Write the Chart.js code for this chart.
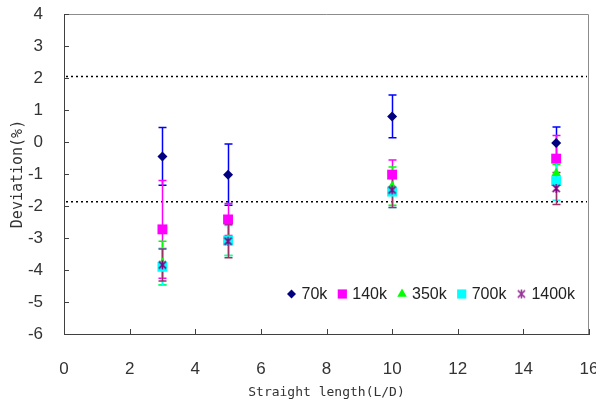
<!DOCTYPE html>
<html>
<head>
<meta charset="utf-8">
<script src="https://cdn.jsdelivr.net/npm/chart.js@4/dist/chart.umd.min.js"></script>
<style>
html, body { margin: 0; padding: 0; background: #fff; }
</style>
</head>
<body>
<canvas id="Deviation_Graph" width="596" height="409"></canvas>
<script>
// straight length positions (L/D)
var lengths = [3, 5, 10, 15];
var seriesNames = ['70k', '140k', '350k', '700k', '1400k'];

// deviation (%) and +/- error for each flow
var dev70k = [-0.45, -1.02, 0.80, -0.03];
var err70k = [0.90, 0.96, 0.67, 0.50];
var dev140k = [-2.73, -2.42, -1.02, -0.52];
var err140k = [1.53, 0.50, 0.46, 0.72];
var dev350k = [-3.78, -3.05, -1.38, -0.98];
var err350k = [0.68, 0.50, 0.60, 0.28];
var dev700k = [-3.90, -3.08, -1.55, -1.22];
var err700k = [0.58, 0.47, 0.50, 0.60];
var dev1400k = [-3.84, -3.10, -1.50, -1.45];
var err1400k = [0.50, 0.52, 0.55, 0.50];

var xTickStep = 2;
var yTickStep = 1;
var refLines = [2.05, -1.87];

function pts(vals) {
    return lengths.map(function (x, i) { return { x: x, y: vals[i] }; });
}

// excel style star marker: an x with a vertical bar
function starMark(size, color) {
    var c = document.createElement('canvas');
    c.width = size; c.height = size;
    var g = c.getContext('2d');
    var m = size / 2, r = size / 2 - 1;
    g.strokeStyle = color;
    g.lineWidth = 1.5;
    g.beginPath();
    g.moveTo(m, m - r); g.lineTo(m, m + r);
    g.moveTo(m - r * 0.8, m - r * 0.8); g.lineTo(m + r * 0.8, m + r * 0.8);
    g.moveTo(m + r * 0.8, m - r * 0.8); g.lineTo(m - r * 0.8, m + r * 0.8);
    g.stroke();
    return c;
}

var tickFont = { family: "'Liberation Sans', Arial, sans-serif", size: 17 };

var errorBars = {
    id: 'errorBars',
    beforeDatasetsDraw: function (chart) {
        var ctx = chart.ctx;
        var xs = chart.scales.x, ys = chart.scales.y;
        chart.data.datasets.forEach(function (ds) {
            ctx.save();
            ctx.strokeStyle = ds.errorColor;
            ctx.lineWidth = 1.5;
            ds.data.forEach(function (p, i) {
                var e = ds.errors[i];
                var px = Math.round(xs.getPixelForValue(p.x)) + 0.5;
                var t = ys.getPixelForValue(p.y + e);
                var b = ys.getPixelForValue(p.y - e);
                ctx.beginPath();
                ctx.moveTo(px, t); ctx.lineTo(px, b);
                ctx.moveTo(px - 4, t); ctx.lineTo(px + 4, t);
                ctx.moveTo(px - 4, b); ctx.lineTo(px + 4, b);
                ctx.stroke();
            });
            ctx.restore();
        });
    }
};

var frame = {
    id: 'frame',
    beforeDatasetsDraw: function (chart) {
        var ctx = chart.ctx, a = chart.chartArea;
        var xs = chart.scales.x, ys = chart.scales.y;
        ctx.save();
        // top and right border of the plot area
        ctx.strokeStyle = '#8c8c8c';
        ctx.lineWidth = 1;
        ctx.beginPath();
        ctx.moveTo(a.left, a.top + 0.5); ctx.lineTo(a.right - 0.5, a.top + 0.5);
        ctx.lineTo(a.right - 0.5, a.bottom);
        ctx.stroke();
        // inner tick marks
        ctx.strokeStyle = '#404040';
        ctx.beginPath();
        xs.ticks.forEach(function (t) {
            var px = Math.round(xs.getPixelForValue(t.value)) + 0.5;
            ctx.moveTo(px, a.bottom); ctx.lineTo(px, a.bottom - 5);
        });
        ys.ticks.forEach(function (t) {
            var py = Math.round(ys.getPixelForValue(t.value)) + 0.5;
            ctx.moveTo(a.left, py); ctx.lineTo(a.left + 5, py);
        });
        ctx.stroke();
        // dotted reference lines
        ctx.strokeStyle = '#000';
        ctx.lineWidth = 1.5;
        ctx.setLineDash([2, 3]);
        refLines.forEach(function (v) {
            var py = ys.getPixelForValue(v);
            ctx.beginPath();
            ctx.moveTo(a.left + 2, py); ctx.lineTo(a.right - 2, py);
            ctx.stroke();
        });
        ctx.restore();
    }
};

var insideLegend = {
    id: 'insideLegend',
    afterDatasetsDraw: function (chart) {
        var ctx = chart.ctx, a = chart.chartArea;
        var dsets = chart.data.datasets;
        ctx.save();
        ctx.font = "16px 'Liberation Sans', Arial, sans-serif";
        ctx.textBaseline = 'middle';
        var total = 0;
        var widths = dsets.map(function (ds) { return ctx.measureText(ds.label).width; });
        widths.forEach(function (w) { total += 10 + w + 15; });
        total -= 15;
        var x = a.right - 14 - total;
        var y = a.bottom - 40;
        dsets.forEach(function (ds, i) {
            ctx.fillStyle = ds.pointBackgroundColor;
            ctx.strokeStyle = ds.pointBorderColor;
            ctx.lineWidth = 1.5;
            Chart.helpers.drawPoint(ctx, { pointStyle: ds.legendStyle || ds.pointStyle, radius: ds.legendRadius, rotation: 0, borderWidth: ds.pointBorderWidth }, x, y);
            ctx.fillStyle = '#222';
            ctx.fillText(ds.label, x + 10, y + 1);
            x += 10 + widths[i] + 15;
        });
        ctx.restore();
    }
};

var ctx = document.getElementById('Deviation_Graph').getContext('2d');

var data = {
    datasets: [
        { label: seriesNames[0], data: pts(dev70k), errors: err70k, errorColor: '#0000ff',
          pointStyle: 'rectRot', pointRadius: 5, legendRadius: 4.5, pointBackgroundColor: '#000080', pointBorderColor: '#000080', pointBorderWidth: 0, order: 5 },
        { label: seriesNames[1], data: pts(dev140k), errors: err140k, errorColor: '#ff00ff',
          pointStyle: 'rect', pointRadius: 7, legendRadius: 6.5, pointBackgroundColor: '#ff00ff', pointBorderColor: '#ff00ff', pointBorderWidth: 0, order: 4 },
        { label: seriesNames[2], data: pts(dev350k), errors: err350k, errorColor: '#00ff00',
          pointStyle: 'triangle', pointRadius: 5.5, legendRadius: 5.5, pointBackgroundColor: '#00ff00', pointBorderColor: '#00ff00', pointBorderWidth: 0, order: 3 },
        { label: seriesNames[3], data: pts(dev700k), errors: err700k, errorColor: '#00ffff',
          pointStyle: 'rect', pointRadius: 7, legendRadius: 6.5, pointBackgroundColor: '#00ffff', pointBorderColor: '#00ffff', pointBorderWidth: 0, order: 2 },
        { label: seriesNames[4], data: pts(dev1400k), errors: err1400k, errorColor: '#993366',
          pointStyle: starMark(11, '#800080'), legendStyle: starMark(11, '#993399'), pointRadius: 5, legendRadius: 5,
          pointBackgroundColor: '#800080', pointBorderColor: '#800080', pointBorderWidth: 0, order: 1 }
    ]
};

var options = {
    responsive: false,
    animation: false,
    layout: { padding: { top: 14, right: 3, left: 0, bottom: 0 } },
    plugins: {
        legend: { display: false },
        tooltip: { enabled: false }
    },
    scales: {
        x: {
            type: 'linear', min: 0, max: 16,
            grid: { display: false, drawTicks: false },
            border: { display: true, color: '#404040', width: 1 },
            ticks: { stepSize: xTickStep, padding: 25, color: '#333', font: tickFont, autoSkip: false, maxRotation: 0 },
            title: { display: true, text: 'Straight length(L/D)', color: '#333',
                     font: { family: "'DejaVu Sans Mono', monospace", size: 13 }, padding: { top: 0, bottom: 9 } },
            afterFit: function (s) { s.height = 75; s.paddingLeft = 0; s.paddingRight = 0; }
        },
        y: {
            type: 'linear', min: -6, max: 4,
            grid: { display: false, drawTicks: false },
            border: { display: true, color: '#404040', width: 1 },
            ticks: { stepSize: yTickStep, padding: 21, color: '#333', font: tickFont, autoSkip: false },
            title: { display: true, text: 'Deviation(%)', color: '#333',
                     font: { family: "'DejaVu Sans Mono', monospace", size: 15 }, padding: { top: 9, bottom: 0 } },
            afterFit: function (s) { s.width = 64; s.paddingTop = 0; s.paddingBottom = 0; }
        }
    }
};

var config = {
    type: 'scatter',
    data: data,
    options: options,
    plugins: [frame, errorBars, insideLegend]
};
var graph1 = new Chart(ctx, config);
</script>
</body>
</html>
